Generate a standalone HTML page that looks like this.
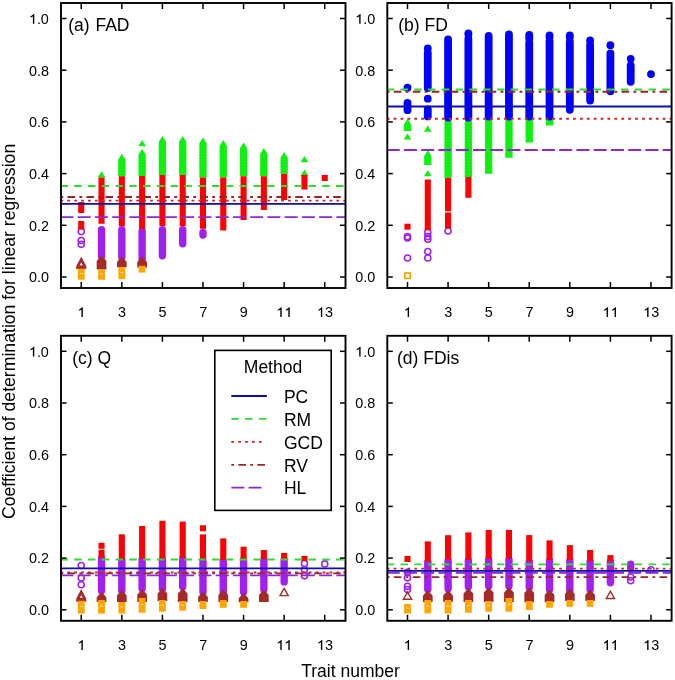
<!DOCTYPE html>
<html><head><meta charset="utf-8"><style>html,body{margin:0;padding:0;background:#fff;overflow:hidden}</style></head>
<body>
<svg width="675" height="680" viewBox="0 0 675 680" style="display:block;filter:blur(0.35px)">
<rect width="675" height="680" fill="#fff"/>
<g>
<clipPath id="c64"><rect x="61.00" y="3.00" width="284.50" height="285.00"/></clipPath>
<g clip-path="url(#c64)">
<circle cx="81.25" cy="231.60" r="3.05" fill="none" stroke="#a020f0" stroke-width="1.55"/>
<circle cx="81.25" cy="240.50" r="3.05" fill="none" stroke="#a020f0" stroke-width="1.55"/>
<circle cx="81.25" cy="244.30" r="3.05" fill="none" stroke="#a020f0" stroke-width="1.55"/>
<rect x="78.20" y="202.00" width="6.10" height="11.00" fill="#ff0000"/>
<rect x="78.20" y="221.00" width="6.10" height="8.50" fill="#ff0000"/>
<polygon points="81.25,258.44 85.25,266.04 77.25,266.04" fill="none" stroke="#a52a2a" stroke-width="1.60" stroke-linejoin="miter"/>
<polygon points="81.25,259.49 85.25,267.09 77.25,267.09" fill="none" stroke="#a52a2a" stroke-width="1.60" stroke-linejoin="miter"/>
<polygon points="81.25,260.54 85.25,268.14 77.25,268.14" fill="none" stroke="#a52a2a" stroke-width="1.60" stroke-linejoin="miter"/>
<rect x="77.85" y="268.70" width="6.80" height="11.00" fill="#ffa500"/>
<rect x="79.95" y="273.05" width="2.60" height="0.9" fill="#fff" opacity="0.85"/>
<polygon points="101.54,171.25 105.44,177.45 105.44,177.50 97.64,177.50 97.64,177.45" fill="#10f010"/>
<rect x="97.84" y="226.00" width="7.40" height="34.00" rx="3.70" fill="#a020f0"/>
<rect x="98.49" y="177.50" width="6.10" height="46.25" fill="#ff0000"/>
<polygon points="101.04,256.00 102.04,256.00 105.18,259.60 106.39,260.96 106.39,269.50 96.69,269.50 96.69,260.96 97.90,259.60" fill="#a52a2a"/>
<rect x="98.14" y="269.50" width="6.80" height="10.20" fill="#ffa500"/>
<rect x="100.24" y="273.45" width="2.60" height="0.9" fill="#fff" opacity="0.85"/>
<polygon points="121.83,153.75 125.73,159.95 125.26,160.35 125.73,162.95 125.26,163.35 125.73,165.95 125.26,166.35 125.73,168.95 125.26,169.35 125.73,171.95 125.26,172.35 125.73,174.95 125.26,175.35 125.73,176.25 125.73,176.25 117.93,176.25 117.93,176.25 118.40,175.35 117.93,174.95 118.40,172.35 117.93,171.95 118.40,169.35 117.93,168.95 118.40,166.35 117.93,165.95 118.40,163.35 117.93,162.95 118.40,160.35 117.93,159.95" fill="#10f010"/>
<rect x="118.13" y="226.00" width="7.40" height="35.00" rx="3.70" fill="#a020f0"/>
<rect x="118.78" y="176.25" width="6.10" height="50.00" fill="#ff0000"/>
<polygon points="121.33,257.00 122.33,257.00 125.47,260.60 126.68,261.96 126.68,267.20 116.98,267.20 116.98,261.96 118.19,260.60" fill="#a52a2a"/>
<rect x="118.43" y="267.20" width="6.80" height="11.90" fill="#ffa500"/>
<rect x="120.53" y="272.00" width="2.60" height="0.9" fill="#fff" opacity="0.85"/>
<polygon points="142.12,148.75 146.02,154.95 145.55,155.35 146.02,157.95 145.55,158.35 146.02,160.95 145.55,161.35 146.02,163.95 145.55,164.35 146.02,166.95 145.55,167.35 146.02,169.95 145.55,170.35 146.02,172.95 145.55,173.35 146.02,175.95 146.02,176.25 138.22,176.25 138.22,175.95 138.69,173.35 138.22,172.95 138.69,170.35 138.22,169.95 138.69,167.35 138.22,166.95 138.69,164.35 138.22,163.95 138.69,161.35 138.22,160.95 138.69,158.35 138.22,157.95 138.69,155.35 138.22,154.95" fill="#10f010"/>
<polygon points="142.12,140.00 146.02,146.20 138.22,146.20" fill="#10f010"/>
<rect x="138.42" y="227.50" width="7.40" height="35.00" rx="3.70" fill="#a020f0"/>
<rect x="139.07" y="176.00" width="6.10" height="53.00" fill="#ff0000"/>
<polygon points="141.62,257.00 142.62,257.00 145.76,260.60 146.97,261.96 146.97,267.40 137.27,267.40 137.27,261.96 138.48,260.60" fill="#a52a2a"/>
<rect x="138.72" y="265.80" width="6.80" height="6.80" fill="#ffa500"/>
<polygon points="162.41,136.00 166.31,142.20 165.84,142.60 166.31,145.20 165.84,145.60 166.31,148.20 165.84,148.60 166.31,151.20 165.84,151.60 166.31,154.20 165.84,154.60 166.31,157.20 165.84,157.60 166.31,160.20 165.84,160.60 166.31,163.20 165.84,163.60 166.31,166.20 165.84,166.60 166.31,169.20 165.84,169.60 166.31,172.20 165.84,172.60 166.31,175.00 166.31,175.00 158.51,175.00 158.51,175.00 158.98,172.60 158.51,172.20 158.98,169.60 158.51,169.20 158.98,166.60 158.51,166.20 158.98,163.60 158.51,163.20 158.98,160.60 158.51,160.20 158.98,157.60 158.51,157.20 158.98,154.60 158.51,154.20 158.98,151.60 158.51,151.20 158.98,148.60 158.51,148.20 158.98,145.60 158.51,145.20 158.98,142.60 158.51,142.20" fill="#10f010"/>
<rect x="158.71" y="226.00" width="7.40" height="33.50" rx="3.70" fill="#a020f0"/>
<rect x="159.36" y="175.00" width="6.10" height="51.00" fill="#ff0000"/>
<polygon points="182.70,136.00 186.60,142.20 186.13,142.60 186.60,145.20 186.13,145.60 186.60,148.20 186.13,148.60 186.60,151.20 186.13,151.60 186.60,154.20 186.13,154.60 186.60,157.20 186.13,157.60 186.60,160.20 186.13,160.60 186.60,163.20 186.13,163.60 186.60,166.20 186.13,166.60 186.60,169.20 186.13,169.60 186.60,172.20 186.13,172.60 186.60,175.00 186.60,175.00 178.80,175.00 178.80,175.00 179.27,172.60 178.80,172.20 179.27,169.60 178.80,169.20 179.27,166.60 178.80,166.20 179.27,163.60 178.80,163.20 179.27,160.60 178.80,160.20 179.27,157.60 178.80,157.20 179.27,154.60 178.80,154.20 179.27,151.60 178.80,151.20 179.27,148.60 178.80,148.20 179.27,145.60 178.80,145.20 179.27,142.60 178.80,142.20" fill="#10f010"/>
<rect x="179.00" y="226.00" width="7.40" height="21.50" rx="3.70" fill="#a020f0"/>
<rect x="179.65" y="175.00" width="6.10" height="51.00" fill="#ff0000"/>
<polygon points="202.99,137.50 206.89,143.70 206.42,144.10 206.89,146.70 206.42,147.10 206.89,149.70 206.42,150.10 206.89,152.70 206.42,153.10 206.89,155.70 206.42,156.10 206.89,158.70 206.42,159.10 206.89,161.70 206.42,162.10 206.89,164.70 206.42,165.10 206.89,167.70 206.42,168.10 206.89,170.70 206.42,171.10 206.89,173.70 206.42,174.10 206.89,176.70 206.42,177.10 206.89,177.50 206.89,177.50 199.09,177.50 199.09,177.50 199.56,177.10 199.09,176.70 199.56,174.10 199.09,173.70 199.56,171.10 199.09,170.70 199.56,168.10 199.09,167.70 199.56,165.10 199.09,164.70 199.56,162.10 199.09,161.70 199.56,159.10 199.09,158.70 199.56,156.10 199.09,155.70 199.56,153.10 199.09,152.70 199.56,150.10 199.09,149.70 199.56,147.10 199.09,146.70 199.56,144.10 199.09,143.70" fill="#10f010"/>
<rect x="199.29" y="228.75" width="7.40" height="10.00" rx="3.70" fill="#a020f0"/>
<rect x="199.94" y="177.50" width="6.10" height="51.25" fill="#ff0000"/>
<polygon points="223.28,140.00 227.18,146.20 226.71,146.60 227.18,149.20 226.71,149.60 227.18,152.20 226.71,152.60 227.18,155.20 226.71,155.60 227.18,158.20 226.71,158.60 227.18,161.20 226.71,161.60 227.18,164.20 226.71,164.60 227.18,167.20 226.71,167.60 227.18,170.20 226.71,170.60 227.18,173.20 226.71,173.60 227.18,176.20 226.71,176.60 227.18,177.50 227.18,177.50 219.38,177.50 219.38,177.50 219.85,176.60 219.38,176.20 219.85,173.60 219.38,173.20 219.85,170.60 219.38,170.20 219.85,167.60 219.38,167.20 219.85,164.60 219.38,164.20 219.85,161.60 219.38,161.20 219.85,158.60 219.38,158.20 219.85,155.60 219.38,155.20 219.85,152.60 219.38,152.20 219.85,149.60 219.38,149.20 219.85,146.60 219.38,146.20" fill="#10f010"/>
<rect x="220.23" y="177.50" width="6.10" height="53.00" fill="#ff0000"/>
<polygon points="243.57,142.50 247.47,148.70 247.00,149.10 247.47,151.70 247.00,152.10 247.47,154.70 247.00,155.10 247.47,157.70 247.00,158.10 247.47,160.70 247.00,161.10 247.47,163.70 247.00,164.10 247.47,166.70 247.00,167.10 247.47,169.70 247.00,170.10 247.47,172.70 247.00,173.10 247.47,175.70 247.00,176.10 247.47,176.25 247.47,176.25 239.67,176.25 239.67,176.25 240.14,176.10 239.67,175.70 240.14,173.10 239.67,172.70 240.14,170.10 239.67,169.70 240.14,167.10 239.67,166.70 240.14,164.10 239.67,163.70 240.14,161.10 239.67,160.70 240.14,158.10 239.67,157.70 240.14,155.10 239.67,154.70 240.14,152.10 239.67,151.70 240.14,149.10 239.67,148.70" fill="#10f010"/>
<rect x="240.52" y="176.25" width="6.10" height="43.75" fill="#ff0000"/>
<polygon points="263.86,148.00 267.76,154.20 267.29,154.60 267.76,157.20 267.29,157.60 267.76,160.20 267.29,160.60 267.76,163.20 267.29,163.60 267.76,166.20 267.29,166.60 267.76,169.20 267.29,169.60 267.76,172.20 267.29,172.60 267.76,175.20 267.29,175.60 267.76,176.25 267.76,176.25 259.96,176.25 259.96,176.25 260.43,175.60 259.96,175.20 260.43,172.60 259.96,172.20 260.43,169.60 259.96,169.20 260.43,166.60 259.96,166.20 260.43,163.60 259.96,163.20 260.43,160.60 259.96,160.20 260.43,157.60 259.96,157.20 260.43,154.60 259.96,154.20" fill="#10f010"/>
<rect x="260.81" y="176.25" width="6.10" height="33.75" fill="#ff0000"/>
<polygon points="284.15,152.00 288.05,158.20 287.58,158.60 288.05,161.20 287.58,161.60 288.05,164.20 287.58,164.60 288.05,167.20 287.58,167.60 288.05,170.20 287.58,170.60 288.05,173.20 287.58,173.60 288.05,173.75 288.05,173.75 280.25,173.75 280.25,173.75 280.72,173.60 280.25,173.20 280.72,170.60 280.25,170.20 280.72,167.60 280.25,167.20 280.72,164.60 280.25,164.20 280.72,161.60 280.25,161.20 280.72,158.60 280.25,158.20" fill="#10f010"/>
<rect x="281.10" y="173.75" width="6.10" height="26.25" fill="#ff0000"/>
<polygon points="304.44,156.00 308.34,162.20 300.54,162.20" fill="#10f010"/>
<polygon points="304.44,169.50 308.34,175.70 300.54,175.70" fill="#10f010"/>
<rect x="301.39" y="175.00" width="6.10" height="14.50" fill="#ff0000"/>
<rect x="321.68" y="175.00" width="6.10" height="6.00" fill="#ff0000"/>
<line x1="60.40" y1="186.00" x2="345.50" y2="186.00" stroke="#2fdc2f" stroke-width="1.80" stroke-dasharray="7.50,6.28"/>
<line x1="60.40" y1="197.00" x2="345.50" y2="197.00" stroke="#9a2626" stroke-width="1.80" stroke-dasharray="2.80,4.29,7.60,4.29"/>
<line x1="60.40" y1="200.70" x2="345.50" y2="200.70" stroke="#c82828" stroke-width="1.80" stroke-dasharray="2.80,4.10"/>
<line x1="60.40" y1="203.90" x2="345.50" y2="203.90" stroke="#0e0eb4" stroke-width="1.80"/>
<line x1="60.40" y1="217.10" x2="345.50" y2="217.10" stroke="#8a28d8" stroke-width="1.80" stroke-dasharray="13.00,4.25"/>
</g>
<line x1="81.25" y1="288.00" x2="81.25" y2="282.00" stroke="#000" stroke-width="1.5"/>
<line x1="81.25" y1="3.00" x2="81.25" y2="9.00" stroke="#000" stroke-width="1.5"/>
<path transform="translate(77.40,317.10) scale(0.00703,-0.00703)" d="M770,0L572,0L572,1090C530,1052 476,1013 408,975C340,937 278,908 222,889L222,1062C322,1107 410,1160 485,1224C560,1288 612,1350 642,1409L770,1409Z" fill="#000"/>
<line x1="121.83" y1="288.00" x2="121.83" y2="282.00" stroke="#000" stroke-width="1.5"/>
<line x1="121.83" y1="3.00" x2="121.83" y2="9.00" stroke="#000" stroke-width="1.5"/>
<text x="117.98" y="317.10" font-family="Liberation Sans, sans-serif" font-size="14.4">3</text>
<line x1="162.41" y1="288.00" x2="162.41" y2="282.00" stroke="#000" stroke-width="1.5"/>
<line x1="162.41" y1="3.00" x2="162.41" y2="9.00" stroke="#000" stroke-width="1.5"/>
<text x="158.56" y="317.10" font-family="Liberation Sans, sans-serif" font-size="14.4">5</text>
<line x1="202.99" y1="288.00" x2="202.99" y2="282.00" stroke="#000" stroke-width="1.5"/>
<line x1="202.99" y1="3.00" x2="202.99" y2="9.00" stroke="#000" stroke-width="1.5"/>
<text x="199.14" y="317.10" font-family="Liberation Sans, sans-serif" font-size="14.4">7</text>
<line x1="243.57" y1="288.00" x2="243.57" y2="282.00" stroke="#000" stroke-width="1.5"/>
<line x1="243.57" y1="3.00" x2="243.57" y2="9.00" stroke="#000" stroke-width="1.5"/>
<text x="239.72" y="317.10" font-family="Liberation Sans, sans-serif" font-size="14.4">9</text>
<line x1="284.15" y1="288.00" x2="284.15" y2="282.00" stroke="#000" stroke-width="1.5"/>
<line x1="284.15" y1="3.00" x2="284.15" y2="9.00" stroke="#000" stroke-width="1.5"/>
<path transform="translate(276.29,317.10) scale(0.00703,-0.00703)" d="M770,0L572,0L572,1090C530,1052 476,1013 408,975C340,937 278,908 222,889L222,1062C322,1107 410,1160 485,1224C560,1288 612,1350 642,1409L770,1409Z" fill="#000"/>
<path transform="translate(284.30,317.10) scale(0.00703,-0.00703)" d="M770,0L572,0L572,1090C530,1052 476,1013 408,975C340,937 278,908 222,889L222,1062C322,1107 410,1160 485,1224C560,1288 612,1350 642,1409L770,1409Z" fill="#000"/>
<line x1="324.73" y1="288.00" x2="324.73" y2="282.00" stroke="#000" stroke-width="1.5"/>
<line x1="324.73" y1="3.00" x2="324.73" y2="9.00" stroke="#000" stroke-width="1.5"/>
<path transform="translate(316.87,317.10) scale(0.00703,-0.00703)" d="M770,0L572,0L572,1090C530,1052 476,1013 408,975C340,937 278,908 222,889L222,1062C322,1107 410,1160 485,1224C560,1288 612,1350 642,1409L770,1409Z" fill="#000"/>
<text x="324.88" y="317.10" font-family="Liberation Sans, sans-serif" font-size="14.4">3</text>
<line x1="61.00" y1="277.00" x2="66.50" y2="277.00" stroke="#000" stroke-width="1.5"/>
<line x1="345.50" y1="277.00" x2="340.00" y2="277.00" stroke="#000" stroke-width="1.5"/>
<text x="28.88" y="282.30" font-family="Liberation Sans, sans-serif" font-size="14.4">0.0</text>
<line x1="61.00" y1="225.30" x2="66.50" y2="225.30" stroke="#000" stroke-width="1.5"/>
<line x1="345.50" y1="225.30" x2="340.00" y2="225.30" stroke="#000" stroke-width="1.5"/>
<text x="28.88" y="230.60" font-family="Liberation Sans, sans-serif" font-size="14.4">0.2</text>
<line x1="61.00" y1="173.60" x2="66.50" y2="173.60" stroke="#000" stroke-width="1.5"/>
<line x1="345.50" y1="173.60" x2="340.00" y2="173.60" stroke="#000" stroke-width="1.5"/>
<text x="28.88" y="178.90" font-family="Liberation Sans, sans-serif" font-size="14.4">0.4</text>
<line x1="61.00" y1="121.90" x2="66.50" y2="121.90" stroke="#000" stroke-width="1.5"/>
<line x1="345.50" y1="121.90" x2="340.00" y2="121.90" stroke="#000" stroke-width="1.5"/>
<text x="28.88" y="127.20" font-family="Liberation Sans, sans-serif" font-size="14.4">0.6</text>
<line x1="61.00" y1="70.20" x2="66.50" y2="70.20" stroke="#000" stroke-width="1.5"/>
<line x1="345.50" y1="70.20" x2="340.00" y2="70.20" stroke="#000" stroke-width="1.5"/>
<text x="28.88" y="75.50" font-family="Liberation Sans, sans-serif" font-size="14.4">0.8</text>
<line x1="61.00" y1="18.50" x2="66.50" y2="18.50" stroke="#000" stroke-width="1.5"/>
<line x1="345.50" y1="18.50" x2="340.00" y2="18.50" stroke="#000" stroke-width="1.5"/>
<path transform="translate(28.88,23.80) scale(0.00703,-0.00703)" d="M770,0L572,0L572,1090C530,1052 476,1013 408,975C340,937 278,908 222,889L222,1062C322,1107 410,1160 485,1224C560,1288 612,1350 642,1409L770,1409Z" fill="#000"/>
<text x="36.89" y="23.80" font-family="Liberation Sans, sans-serif" font-size="14.4">.0</text>
<text x="68.20" y="30.70" font-family="Liberation Sans, sans-serif" font-size="17.5" word-spacing="1">(a) FAD</text>
<rect x="61.00" y="3.00" width="284.50" height="285.00" fill="none" stroke="#000" stroke-width="1.9"/>
</g>
<g>
<clipPath id="c390"><rect x="387.30" y="3.00" width="284.30" height="285.00"/></clipPath>
<g clip-path="url(#c390)">
<polygon points="407.50,118.80 411.40,125.00 410.93,125.40 411.40,128.00 410.93,128.40 411.40,131.00 411.40,131.10 403.60,131.10 403.60,131.00 404.07,128.40 403.60,128.00 404.07,125.40 403.60,125.00" fill="#10f010"/>
<polygon points="407.50,133.40 411.40,139.60 403.60,139.60" fill="#10f010"/>
<rect x="403.60" y="99.00" width="7.80" height="15.10" rx="3.90" fill="#0000ff"/>
<rect x="403.60" y="83.80" width="7.80" height="7.80" rx="3.90" fill="#0000ff"/>
<circle cx="407.50" cy="236.60" r="3.05" fill="none" stroke="#a020f0" stroke-width="1.55"/>
<circle cx="407.50" cy="238.00" r="3.05" fill="none" stroke="#a020f0" stroke-width="1.55"/>
<circle cx="407.50" cy="258.00" r="3.05" fill="none" stroke="#a020f0" stroke-width="1.55"/>
<rect x="404.45" y="223.70" width="6.10" height="6.00" fill="#ff0000"/>
<rect x="404.85" y="273.05" width="5.30" height="5.30" fill="none" stroke="#ffa500" stroke-width="1.70"/>
<polygon points="427.79,150.00 431.69,156.20 431.22,156.60 431.69,159.20 431.22,159.60 431.69,162.20 431.22,162.60 431.69,165.00 431.69,165.00 423.89,165.00 423.89,165.00 424.36,162.60 423.89,162.20 424.36,159.60 423.89,159.20 424.36,156.60 423.89,156.20" fill="#10f010"/>
<polygon points="427.79,125.60 431.69,131.80 423.89,131.80" fill="#10f010"/>
<polygon points="427.79,170.00 431.69,176.20 423.89,176.20" fill="#10f010"/>
<rect x="423.89" y="44.40" width="7.80" height="8.10" rx="3.90" fill="#0000ff"/>
<rect x="423.89" y="49.00" width="7.80" height="43.00" rx="3.90" fill="#0000ff"/>
<rect x="423.89" y="105.40" width="7.80" height="14.90" rx="3.90" fill="#0000ff"/>
<rect x="423.89" y="94.80" width="7.80" height="7.80" rx="3.90" fill="#0000ff"/>
<circle cx="427.79" cy="232.40" r="3.05" fill="none" stroke="#a020f0" stroke-width="1.55"/>
<circle cx="427.79" cy="236.60" r="3.05" fill="none" stroke="#a020f0" stroke-width="1.55"/>
<circle cx="427.79" cy="239.30" r="3.05" fill="none" stroke="#a020f0" stroke-width="1.55"/>
<circle cx="427.79" cy="251.50" r="3.05" fill="none" stroke="#a020f0" stroke-width="1.55"/>
<circle cx="427.79" cy="258.00" r="3.05" fill="none" stroke="#a020f0" stroke-width="1.55"/>
<rect x="424.74" y="179.50" width="6.10" height="50.80" fill="#ff0000"/>
<polygon points="448.08,115.50 451.98,121.70 451.51,122.10 451.98,124.70 451.51,125.10 451.98,127.70 451.51,128.10 451.98,130.70 451.51,131.10 451.98,133.70 451.51,134.10 451.98,136.70 451.51,137.10 451.98,139.70 451.51,140.10 451.98,142.70 451.51,143.10 451.98,145.70 451.51,146.10 451.98,148.70 451.51,149.10 451.98,151.70 451.51,152.10 451.98,154.70 451.51,155.10 451.98,157.70 451.51,158.10 451.98,160.70 451.51,161.10 451.98,163.70 451.51,164.10 451.98,166.70 451.51,167.10 451.98,169.70 451.51,170.10 451.98,172.70 451.51,173.10 451.98,175.70 451.51,176.10 451.98,177.80 451.98,177.80 444.18,177.80 444.18,177.80 444.65,176.10 444.18,175.70 444.65,173.10 444.18,172.70 444.65,170.10 444.18,169.70 444.65,167.10 444.18,166.70 444.65,164.10 444.18,163.70 444.65,161.10 444.18,160.70 444.65,158.10 444.18,157.70 444.65,155.10 444.18,154.70 444.65,152.10 444.18,151.70 444.65,149.10 444.18,148.70 444.65,146.10 444.18,145.70 444.65,143.10 444.18,142.70 444.65,140.10 444.18,139.70 444.65,137.10 444.18,136.70 444.65,134.10 444.18,133.70 444.65,131.10 444.18,130.70 444.65,128.10 444.18,127.70 444.65,125.10 444.18,124.70 444.65,122.10 444.18,121.70" fill="#10f010"/>
<rect x="444.18" y="35.50" width="7.80" height="86.00" rx="3.90" fill="#0000ff"/>
<circle cx="448.08" cy="231.00" r="3.05" fill="none" stroke="#a020f0" stroke-width="1.55"/>
<rect x="445.03" y="177.80" width="6.10" height="33.40" fill="#ff0000"/>
<rect x="445.03" y="212.40" width="6.10" height="15.90" fill="#ff0000"/>
<polygon points="468.37,115.50 472.27,121.70 471.80,122.10 472.27,124.70 471.80,125.10 472.27,127.70 471.80,128.10 472.27,130.70 471.80,131.10 472.27,133.70 471.80,134.10 472.27,136.70 471.80,137.10 472.27,139.70 471.80,140.10 472.27,142.70 471.80,143.10 472.27,145.70 471.80,146.10 472.27,148.70 471.80,149.10 472.27,151.70 471.80,152.10 472.27,154.70 471.80,155.10 472.27,157.70 471.80,158.10 472.27,160.70 471.80,161.10 472.27,163.70 471.80,164.10 472.27,166.70 471.80,167.10 472.27,169.70 471.80,170.10 472.27,172.70 471.80,173.10 472.27,175.70 471.80,176.10 472.27,177.00 472.27,177.00 464.47,177.00 464.47,177.00 464.94,176.10 464.47,175.70 464.94,173.10 464.47,172.70 464.94,170.10 464.47,169.70 464.94,167.10 464.47,166.70 464.94,164.10 464.47,163.70 464.94,161.10 464.47,160.70 464.94,158.10 464.47,157.70 464.94,155.10 464.47,154.70 464.94,152.10 464.47,151.70 464.94,149.10 464.47,148.70 464.94,146.10 464.47,145.70 464.94,143.10 464.47,142.70 464.94,140.10 464.47,139.70 464.94,137.10 464.47,136.70 464.94,134.10 464.47,133.70 464.94,131.10 464.47,130.70 464.94,128.10 464.47,127.70 464.94,125.10 464.47,124.70 464.94,122.10 464.47,121.70" fill="#10f010"/>
<rect x="464.47" y="29.40" width="7.80" height="9.10" rx="3.90" fill="#0000ff"/>
<rect x="464.47" y="35.00" width="7.80" height="86.50" rx="3.90" fill="#0000ff"/>
<rect x="465.32" y="177.00" width="6.10" height="20.80" fill="#ff0000"/>
<polygon points="488.66,114.50 492.56,120.70 492.09,121.10 492.56,123.70 492.09,124.10 492.56,126.70 492.09,127.10 492.56,129.70 492.09,130.10 492.56,132.70 492.09,133.10 492.56,135.70 492.09,136.10 492.56,138.70 492.09,139.10 492.56,141.70 492.09,142.10 492.56,144.70 492.09,145.10 492.56,147.70 492.09,148.10 492.56,150.70 492.09,151.10 492.56,153.70 492.09,154.10 492.56,156.70 492.09,157.10 492.56,159.70 492.09,160.10 492.56,162.70 492.09,163.10 492.56,165.70 492.09,166.10 492.56,168.70 492.09,169.10 492.56,171.70 492.09,172.10 492.56,173.70 492.56,173.70 484.76,173.70 484.76,173.70 485.23,172.10 484.76,171.70 485.23,169.10 484.76,168.70 485.23,166.10 484.76,165.70 485.23,163.10 484.76,162.70 485.23,160.10 484.76,159.70 485.23,157.10 484.76,156.70 485.23,154.10 484.76,153.70 485.23,151.10 484.76,150.70 485.23,148.10 484.76,147.70 485.23,145.10 484.76,144.70 485.23,142.10 484.76,141.70 485.23,139.10 484.76,138.70 485.23,136.10 484.76,135.70 485.23,133.10 484.76,132.70 485.23,130.10 484.76,129.70 485.23,127.10 484.76,126.70 485.23,124.10 484.76,123.70 485.23,121.10 484.76,120.70" fill="#10f010"/>
<rect x="484.76" y="32.00" width="7.80" height="88.50" rx="3.90" fill="#0000ff"/>
<polygon points="508.95,114.50 512.85,120.70 512.38,121.10 512.85,123.70 512.38,124.10 512.85,126.70 512.38,127.10 512.85,129.70 512.38,130.10 512.85,132.70 512.38,133.10 512.85,135.70 512.38,136.10 512.85,138.70 512.38,139.10 512.85,141.70 512.38,142.10 512.85,144.70 512.38,145.10 512.85,147.70 512.38,148.10 512.85,150.70 512.38,151.10 512.85,153.70 512.38,154.10 512.85,156.70 512.38,157.10 512.85,157.80 512.85,157.80 505.05,157.80 505.05,157.80 505.52,157.10 505.05,156.70 505.52,154.10 505.05,153.70 505.52,151.10 505.05,150.70 505.52,148.10 505.05,147.70 505.52,145.10 505.05,144.70 505.52,142.10 505.05,141.70 505.52,139.10 505.05,138.70 505.52,136.10 505.05,135.70 505.52,133.10 505.05,132.70 505.52,130.10 505.05,129.70 505.52,127.10 505.05,126.70 505.52,124.10 505.05,123.70 505.52,121.10 505.05,120.70" fill="#10f010"/>
<rect x="505.05" y="30.50" width="7.80" height="90.00" rx="3.90" fill="#0000ff"/>
<polygon points="529.24,114.50 533.14,120.70 532.67,121.10 533.14,123.70 532.67,124.10 533.14,126.70 532.67,127.10 533.14,129.70 532.67,130.10 533.14,132.70 532.67,133.10 533.14,135.70 532.67,136.10 533.14,138.70 532.67,139.10 533.14,141.70 532.67,142.10 533.14,142.50 533.14,142.50 525.34,142.50 525.34,142.50 525.81,142.10 525.34,141.70 525.81,139.10 525.34,138.70 525.81,136.10 525.34,135.70 525.81,133.10 525.34,132.70 525.81,130.10 525.34,129.70 525.81,127.10 525.34,126.70 525.81,124.10 525.34,123.70 525.81,121.10 525.34,120.70" fill="#10f010"/>
<rect x="525.34" y="30.90" width="7.80" height="11.90" rx="3.90" fill="#0000ff"/>
<rect x="525.34" y="39.30" width="7.80" height="81.20" rx="3.90" fill="#0000ff"/>
<polygon points="549.53,114.50 553.43,120.70 552.96,121.10 553.43,123.70 552.96,124.10 553.43,125.50 553.43,125.50 545.63,125.50 545.63,125.50 546.10,124.10 545.63,123.70 546.10,121.10 545.63,120.70" fill="#10f010"/>
<rect x="545.63" y="31.50" width="7.80" height="9.70" rx="3.90" fill="#0000ff"/>
<rect x="545.63" y="37.60" width="7.80" height="82.90" rx="3.90" fill="#0000ff"/>
<rect x="565.92" y="31.50" width="7.80" height="9.70" rx="3.90" fill="#0000ff"/>
<rect x="565.92" y="37.80" width="7.80" height="75.95" rx="3.90" fill="#0000ff"/>
<rect x="586.21" y="36.50" width="7.80" height="7.80" rx="3.90" fill="#0000ff"/>
<rect x="586.21" y="40.80" width="7.80" height="63.70" rx="3.90" fill="#0000ff"/>
<rect x="606.50" y="41.30" width="7.80" height="7.80" rx="3.90" fill="#0000ff"/>
<rect x="606.50" y="49.60" width="7.80" height="45.60" rx="3.90" fill="#0000ff"/>
<rect x="626.79" y="54.90" width="7.80" height="7.80" rx="3.90" fill="#0000ff"/>
<rect x="626.79" y="61.60" width="7.80" height="24.10" rx="3.90" fill="#0000ff"/>
<rect x="647.08" y="70.20" width="7.80" height="7.80" rx="3.90" fill="#0000ff"/>
<line x1="386.70" y1="89.50" x2="671.60" y2="89.50" stroke="#2fdc2f" stroke-width="1.80" stroke-dasharray="7.50,6.28"/>
<line x1="386.70" y1="91.75" x2="671.60" y2="91.75" stroke="#9a2626" stroke-width="1.80" stroke-dasharray="2.80,4.29,7.60,4.29"/>
<line x1="386.70" y1="106.50" x2="671.60" y2="106.50" stroke="#0e0eb4" stroke-width="1.80"/>
<line x1="386.70" y1="118.75" x2="671.60" y2="118.75" stroke="#c82828" stroke-width="1.80" stroke-dasharray="2.80,4.10"/>
<line x1="386.70" y1="150.00" x2="671.60" y2="150.00" stroke="#8a28d8" stroke-width="1.80" stroke-dasharray="13.00,4.25"/>
</g>
<line x1="407.50" y1="288.00" x2="407.50" y2="282.00" stroke="#000" stroke-width="1.5"/>
<line x1="407.50" y1="3.00" x2="407.50" y2="9.00" stroke="#000" stroke-width="1.5"/>
<path transform="translate(403.65,317.10) scale(0.00703,-0.00703)" d="M770,0L572,0L572,1090C530,1052 476,1013 408,975C340,937 278,908 222,889L222,1062C322,1107 410,1160 485,1224C560,1288 612,1350 642,1409L770,1409Z" fill="#000"/>
<line x1="448.08" y1="288.00" x2="448.08" y2="282.00" stroke="#000" stroke-width="1.5"/>
<line x1="448.08" y1="3.00" x2="448.08" y2="9.00" stroke="#000" stroke-width="1.5"/>
<text x="444.23" y="317.10" font-family="Liberation Sans, sans-serif" font-size="14.4">3</text>
<line x1="488.66" y1="288.00" x2="488.66" y2="282.00" stroke="#000" stroke-width="1.5"/>
<line x1="488.66" y1="3.00" x2="488.66" y2="9.00" stroke="#000" stroke-width="1.5"/>
<text x="484.81" y="317.10" font-family="Liberation Sans, sans-serif" font-size="14.4">5</text>
<line x1="529.24" y1="288.00" x2="529.24" y2="282.00" stroke="#000" stroke-width="1.5"/>
<line x1="529.24" y1="3.00" x2="529.24" y2="9.00" stroke="#000" stroke-width="1.5"/>
<text x="525.39" y="317.10" font-family="Liberation Sans, sans-serif" font-size="14.4">7</text>
<line x1="569.82" y1="288.00" x2="569.82" y2="282.00" stroke="#000" stroke-width="1.5"/>
<line x1="569.82" y1="3.00" x2="569.82" y2="9.00" stroke="#000" stroke-width="1.5"/>
<text x="565.97" y="317.10" font-family="Liberation Sans, sans-serif" font-size="14.4">9</text>
<line x1="610.40" y1="288.00" x2="610.40" y2="282.00" stroke="#000" stroke-width="1.5"/>
<line x1="610.40" y1="3.00" x2="610.40" y2="9.00" stroke="#000" stroke-width="1.5"/>
<path transform="translate(602.54,317.10) scale(0.00703,-0.00703)" d="M770,0L572,0L572,1090C530,1052 476,1013 408,975C340,937 278,908 222,889L222,1062C322,1107 410,1160 485,1224C560,1288 612,1350 642,1409L770,1409Z" fill="#000"/>
<path transform="translate(610.55,317.10) scale(0.00703,-0.00703)" d="M770,0L572,0L572,1090C530,1052 476,1013 408,975C340,937 278,908 222,889L222,1062C322,1107 410,1160 485,1224C560,1288 612,1350 642,1409L770,1409Z" fill="#000"/>
<line x1="650.98" y1="288.00" x2="650.98" y2="282.00" stroke="#000" stroke-width="1.5"/>
<line x1="650.98" y1="3.00" x2="650.98" y2="9.00" stroke="#000" stroke-width="1.5"/>
<path transform="translate(643.12,317.10) scale(0.00703,-0.00703)" d="M770,0L572,0L572,1090C530,1052 476,1013 408,975C340,937 278,908 222,889L222,1062C322,1107 410,1160 485,1224C560,1288 612,1350 642,1409L770,1409Z" fill="#000"/>
<text x="651.13" y="317.10" font-family="Liberation Sans, sans-serif" font-size="14.4">3</text>
<line x1="387.30" y1="277.00" x2="392.80" y2="277.00" stroke="#000" stroke-width="1.5"/>
<line x1="671.60" y1="277.00" x2="666.10" y2="277.00" stroke="#000" stroke-width="1.5"/>
<text x="355.18" y="282.30" font-family="Liberation Sans, sans-serif" font-size="14.4">0.0</text>
<line x1="387.30" y1="225.30" x2="392.80" y2="225.30" stroke="#000" stroke-width="1.5"/>
<line x1="671.60" y1="225.30" x2="666.10" y2="225.30" stroke="#000" stroke-width="1.5"/>
<text x="355.18" y="230.60" font-family="Liberation Sans, sans-serif" font-size="14.4">0.2</text>
<line x1="387.30" y1="173.60" x2="392.80" y2="173.60" stroke="#000" stroke-width="1.5"/>
<line x1="671.60" y1="173.60" x2="666.10" y2="173.60" stroke="#000" stroke-width="1.5"/>
<text x="355.18" y="178.90" font-family="Liberation Sans, sans-serif" font-size="14.4">0.4</text>
<line x1="387.30" y1="121.90" x2="392.80" y2="121.90" stroke="#000" stroke-width="1.5"/>
<line x1="671.60" y1="121.90" x2="666.10" y2="121.90" stroke="#000" stroke-width="1.5"/>
<text x="355.18" y="127.20" font-family="Liberation Sans, sans-serif" font-size="14.4">0.6</text>
<line x1="387.30" y1="70.20" x2="392.80" y2="70.20" stroke="#000" stroke-width="1.5"/>
<line x1="671.60" y1="70.20" x2="666.10" y2="70.20" stroke="#000" stroke-width="1.5"/>
<text x="355.18" y="75.50" font-family="Liberation Sans, sans-serif" font-size="14.4">0.8</text>
<line x1="387.30" y1="18.50" x2="392.80" y2="18.50" stroke="#000" stroke-width="1.5"/>
<line x1="671.60" y1="18.50" x2="666.10" y2="18.50" stroke="#000" stroke-width="1.5"/>
<path transform="translate(355.18,23.80) scale(0.00703,-0.00703)" d="M770,0L572,0L572,1090C530,1052 476,1013 408,975C340,937 278,908 222,889L222,1062C322,1107 410,1160 485,1224C560,1288 612,1350 642,1409L770,1409Z" fill="#000"/>
<text x="363.19" y="23.80" font-family="Liberation Sans, sans-serif" font-size="14.4">.0</text>
<text x="398.20" y="30.70" font-family="Liberation Sans, sans-serif" font-size="17.5">(b) FD</text>
<rect x="387.30" y="3.00" width="284.30" height="285.00" fill="none" stroke="#000" stroke-width="1.9"/>
</g>
<g>
<clipPath id="c396"><rect x="61.00" y="335.80" width="284.50" height="285.00"/></clipPath>
<g clip-path="url(#c396)">
<circle cx="81.25" cy="565.50" r="3.05" fill="none" stroke="#a020f0" stroke-width="1.55"/>
<circle cx="81.25" cy="578.00" r="3.05" fill="none" stroke="#a020f0" stroke-width="1.55"/>
<circle cx="81.25" cy="584.70" r="3.05" fill="none" stroke="#a020f0" stroke-width="1.55"/>
<polygon points="81.25,590.84 85.25,598.44 77.25,598.44" fill="none" stroke="#a52a2a" stroke-width="1.60" stroke-linejoin="miter"/>
<polygon points="81.25,592.09 85.25,599.69 77.25,599.69" fill="none" stroke="#a52a2a" stroke-width="1.60" stroke-linejoin="miter"/>
<polygon points="81.25,593.34 85.25,600.94 77.25,600.94" fill="none" stroke="#a52a2a" stroke-width="1.60" stroke-linejoin="miter"/>
<rect x="77.85" y="601.00" width="6.80" height="12.60" fill="#ffa500"/>
<rect x="79.95" y="606.15" width="2.60" height="0.9" fill="#fff" opacity="0.85"/>
<rect x="97.84" y="555.00" width="7.40" height="39.40" rx="3.70" fill="#a020f0"/>
<rect x="98.49" y="549.80" width="6.10" height="8.00" fill="#ff0000"/>
<rect x="98.49" y="542.80" width="6.10" height="6.00" fill="#ff0000"/>
<polygon points="101.04,592.50 102.04,592.50 105.18,596.10 106.39,597.46 106.39,602.00 96.69,602.00 96.69,597.46 97.90,596.10" fill="#a52a2a"/>
<rect x="98.14" y="600.00" width="6.80" height="13.60" fill="#ffa500"/>
<rect x="100.24" y="605.65" width="2.60" height="0.9" fill="#fff" opacity="0.85"/>
<rect x="118.13" y="556.90" width="7.40" height="37.50" rx="3.70" fill="#a020f0"/>
<rect x="118.78" y="534.30" width="6.10" height="25.40" fill="#ff0000"/>
<polygon points="121.33,590.50 122.33,590.50 125.47,594.10 126.68,595.46 126.68,602.00 116.98,602.00 116.98,595.46 118.19,594.10" fill="#a52a2a"/>
<rect x="118.43" y="602.00" width="6.80" height="11.60" fill="#ffa500"/>
<rect x="120.53" y="606.65" width="2.60" height="0.9" fill="#fff" opacity="0.85"/>
<rect x="138.42" y="555.90" width="7.40" height="36.60" rx="3.70" fill="#a020f0"/>
<rect x="139.07" y="526.00" width="6.10" height="32.70" fill="#ff0000"/>
<polygon points="141.62,589.60 142.62,589.60 145.76,593.20 146.97,594.56 146.97,602.00 137.27,602.00 137.27,594.56 138.48,593.20" fill="#a52a2a"/>
<rect x="138.72" y="598.00" width="6.80" height="14.70" fill="#ffa500"/>
<rect x="140.82" y="604.20" width="2.60" height="0.9" fill="#fff" opacity="0.85"/>
<rect x="158.71" y="555.90" width="7.40" height="36.60" rx="3.70" fill="#a020f0"/>
<rect x="159.36" y="520.80" width="6.10" height="37.90" fill="#ff0000"/>
<polygon points="161.91,588.60 162.91,588.60 166.05,592.20 167.26,593.56 167.26,601.00 157.56,601.00 157.56,593.56 158.77,592.20" fill="#a52a2a"/>
<rect x="159.01" y="600.00" width="6.80" height="11.70" fill="#ffa500"/>
<rect x="161.11" y="604.70" width="2.60" height="0.9" fill="#fff" opacity="0.85"/>
<rect x="179.00" y="555.00" width="7.40" height="35.50" rx="3.70" fill="#a020f0"/>
<rect x="179.65" y="521.60" width="6.10" height="36.20" fill="#ff0000"/>
<polygon points="182.20,588.60 183.20,588.60 186.34,592.20 187.55,593.56 187.55,602.00 177.85,602.00 177.85,593.56 179.06,592.20" fill="#a52a2a"/>
<rect x="179.30" y="601.00" width="6.80" height="9.70" fill="#ffa500"/>
<rect x="181.40" y="604.70" width="2.60" height="0.9" fill="#fff" opacity="0.85"/>
<rect x="199.29" y="557.20" width="7.40" height="38.40" rx="3.70" fill="#a020f0"/>
<rect x="199.94" y="534.40" width="6.10" height="25.60" fill="#ff0000"/>
<rect x="199.94" y="525.30" width="6.10" height="6.00" fill="#ff0000"/>
<polygon points="202.49,592.00 203.49,592.00 206.63,595.60 207.84,596.96 207.84,602.00 198.14,602.00 198.14,596.96 199.35,595.60" fill="#a52a2a"/>
<rect x="199.59" y="601.00" width="6.80" height="8.00" fill="#ffa500"/>
<rect x="219.58" y="557.20" width="7.40" height="38.40" rx="3.70" fill="#a020f0"/>
<rect x="220.23" y="538.40" width="6.10" height="21.60" fill="#ff0000"/>
<polygon points="222.78,590.00 223.78,590.00 226.92,593.60 228.13,594.96 228.13,602.00 218.43,602.00 218.43,594.96 219.64,593.60" fill="#a52a2a"/>
<rect x="219.88" y="600.00" width="6.80" height="7.80" fill="#ffa500"/>
<rect x="239.87" y="556.20" width="7.40" height="39.40" rx="3.70" fill="#a020f0"/>
<rect x="240.52" y="546.70" width="6.10" height="12.30" fill="#ff0000"/>
<polygon points="243.07,593.30 244.07,593.30 247.21,596.90 248.42,598.26 248.42,602.30 238.72,602.30 238.72,598.26 239.93,596.90" fill="#a52a2a"/>
<rect x="240.17" y="601.00" width="6.80" height="6.80" fill="#ffa500"/>
<rect x="260.16" y="556.20" width="7.40" height="37.10" rx="3.70" fill="#a020f0"/>
<rect x="260.81" y="550.00" width="6.10" height="9.00" fill="#ff0000"/>
<polygon points="263.36,590.00 264.36,590.00 267.50,593.60 268.71,594.96 268.71,602.00 259.01,602.00 259.01,594.96 260.22,593.60" fill="#a52a2a"/>
<rect x="280.45" y="556.20" width="7.40" height="29.40" rx="3.70" fill="#a020f0"/>
<rect x="281.10" y="552.90" width="6.10" height="6.10" fill="#ff0000"/>
<polygon points="284.15,588.46 288.25,595.66 280.05,595.66" fill="none" stroke="#a52a2a" stroke-width="1.40" stroke-linejoin="miter"/>
<circle cx="304.44" cy="563.60" r="3.05" fill="none" stroke="#a020f0" stroke-width="1.55"/>
<circle cx="304.44" cy="569.60" r="3.05" fill="none" stroke="#a020f0" stroke-width="1.55"/>
<circle cx="304.44" cy="575.80" r="3.05" fill="none" stroke="#a020f0" stroke-width="1.55"/>
<rect x="301.39" y="556.00" width="6.10" height="5.00" fill="#ff0000"/>
<circle cx="324.73" cy="563.90" r="3.05" fill="none" stroke="#a020f0" stroke-width="1.55"/>
<line x1="60.40" y1="559.50" x2="345.50" y2="559.50" stroke="#2fdc2f" stroke-width="1.80" stroke-dasharray="7.50,6.28"/>
<line x1="60.40" y1="568.40" x2="345.50" y2="568.40" stroke="#0e0eb4" stroke-width="1.80"/>
<line x1="60.40" y1="572.50" x2="345.50" y2="572.50" stroke="#c82828" stroke-width="1.80" stroke-dasharray="2.80,4.10"/>
<line x1="60.40" y1="573.40" x2="345.50" y2="573.40" stroke="#9a2626" stroke-width="1.80" stroke-dasharray="2.80,4.29,7.60,4.29"/>
<line x1="60.40" y1="575.40" x2="345.50" y2="575.40" stroke="#8a28d8" stroke-width="1.80" stroke-dasharray="13.00,4.25"/>
</g>
<line x1="81.25" y1="620.80" x2="81.25" y2="614.80" stroke="#000" stroke-width="1.5"/>
<line x1="81.25" y1="335.80" x2="81.25" y2="341.80" stroke="#000" stroke-width="1.5"/>
<path transform="translate(77.40,649.90) scale(0.00703,-0.00703)" d="M770,0L572,0L572,1090C530,1052 476,1013 408,975C340,937 278,908 222,889L222,1062C322,1107 410,1160 485,1224C560,1288 612,1350 642,1409L770,1409Z" fill="#000"/>
<line x1="121.83" y1="620.80" x2="121.83" y2="614.80" stroke="#000" stroke-width="1.5"/>
<line x1="121.83" y1="335.80" x2="121.83" y2="341.80" stroke="#000" stroke-width="1.5"/>
<text x="117.98" y="649.90" font-family="Liberation Sans, sans-serif" font-size="14.4">3</text>
<line x1="162.41" y1="620.80" x2="162.41" y2="614.80" stroke="#000" stroke-width="1.5"/>
<line x1="162.41" y1="335.80" x2="162.41" y2="341.80" stroke="#000" stroke-width="1.5"/>
<text x="158.56" y="649.90" font-family="Liberation Sans, sans-serif" font-size="14.4">5</text>
<line x1="202.99" y1="620.80" x2="202.99" y2="614.80" stroke="#000" stroke-width="1.5"/>
<line x1="202.99" y1="335.80" x2="202.99" y2="341.80" stroke="#000" stroke-width="1.5"/>
<text x="199.14" y="649.90" font-family="Liberation Sans, sans-serif" font-size="14.4">7</text>
<line x1="243.57" y1="620.80" x2="243.57" y2="614.80" stroke="#000" stroke-width="1.5"/>
<line x1="243.57" y1="335.80" x2="243.57" y2="341.80" stroke="#000" stroke-width="1.5"/>
<text x="239.72" y="649.90" font-family="Liberation Sans, sans-serif" font-size="14.4">9</text>
<line x1="284.15" y1="620.80" x2="284.15" y2="614.80" stroke="#000" stroke-width="1.5"/>
<line x1="284.15" y1="335.80" x2="284.15" y2="341.80" stroke="#000" stroke-width="1.5"/>
<path transform="translate(276.29,649.90) scale(0.00703,-0.00703)" d="M770,0L572,0L572,1090C530,1052 476,1013 408,975C340,937 278,908 222,889L222,1062C322,1107 410,1160 485,1224C560,1288 612,1350 642,1409L770,1409Z" fill="#000"/>
<path transform="translate(284.30,649.90) scale(0.00703,-0.00703)" d="M770,0L572,0L572,1090C530,1052 476,1013 408,975C340,937 278,908 222,889L222,1062C322,1107 410,1160 485,1224C560,1288 612,1350 642,1409L770,1409Z" fill="#000"/>
<line x1="324.73" y1="620.80" x2="324.73" y2="614.80" stroke="#000" stroke-width="1.5"/>
<line x1="324.73" y1="335.80" x2="324.73" y2="341.80" stroke="#000" stroke-width="1.5"/>
<path transform="translate(316.87,649.90) scale(0.00703,-0.00703)" d="M770,0L572,0L572,1090C530,1052 476,1013 408,975C340,937 278,908 222,889L222,1062C322,1107 410,1160 485,1224C560,1288 612,1350 642,1409L770,1409Z" fill="#000"/>
<text x="324.88" y="649.90" font-family="Liberation Sans, sans-serif" font-size="14.4">3</text>
<line x1="61.00" y1="609.80" x2="66.50" y2="609.80" stroke="#000" stroke-width="1.5"/>
<line x1="345.50" y1="609.80" x2="340.00" y2="609.80" stroke="#000" stroke-width="1.5"/>
<text x="28.88" y="615.10" font-family="Liberation Sans, sans-serif" font-size="14.4">0.0</text>
<line x1="61.00" y1="558.10" x2="66.50" y2="558.10" stroke="#000" stroke-width="1.5"/>
<line x1="345.50" y1="558.10" x2="340.00" y2="558.10" stroke="#000" stroke-width="1.5"/>
<text x="28.88" y="563.40" font-family="Liberation Sans, sans-serif" font-size="14.4">0.2</text>
<line x1="61.00" y1="506.40" x2="66.50" y2="506.40" stroke="#000" stroke-width="1.5"/>
<line x1="345.50" y1="506.40" x2="340.00" y2="506.40" stroke="#000" stroke-width="1.5"/>
<text x="28.88" y="511.70" font-family="Liberation Sans, sans-serif" font-size="14.4">0.4</text>
<line x1="61.00" y1="454.70" x2="66.50" y2="454.70" stroke="#000" stroke-width="1.5"/>
<line x1="345.50" y1="454.70" x2="340.00" y2="454.70" stroke="#000" stroke-width="1.5"/>
<text x="28.88" y="460.00" font-family="Liberation Sans, sans-serif" font-size="14.4">0.6</text>
<line x1="61.00" y1="403.00" x2="66.50" y2="403.00" stroke="#000" stroke-width="1.5"/>
<line x1="345.50" y1="403.00" x2="340.00" y2="403.00" stroke="#000" stroke-width="1.5"/>
<text x="28.88" y="408.30" font-family="Liberation Sans, sans-serif" font-size="14.4">0.8</text>
<line x1="61.00" y1="351.30" x2="66.50" y2="351.30" stroke="#000" stroke-width="1.5"/>
<line x1="345.50" y1="351.30" x2="340.00" y2="351.30" stroke="#000" stroke-width="1.5"/>
<path transform="translate(28.88,356.60) scale(0.00703,-0.00703)" d="M770,0L572,0L572,1090C530,1052 476,1013 408,975C340,937 278,908 222,889L222,1062C322,1107 410,1160 485,1224C560,1288 612,1350 642,1409L770,1409Z" fill="#000"/>
<text x="36.89" y="356.60" font-family="Liberation Sans, sans-serif" font-size="14.4">.0</text>
<text x="72.20" y="363.50" font-family="Liberation Sans, sans-serif" font-size="17.5">(c) Q</text>
<rect x="61.00" y="335.80" width="284.50" height="285.00" fill="none" stroke="#000" stroke-width="1.9"/>
</g>
<g>
<clipPath id="c723"><rect x="387.30" y="335.80" width="284.30" height="285.00"/></clipPath>
<g clip-path="url(#c723)">
<circle cx="407.50" cy="572.20" r="3.05" fill="none" stroke="#a020f0" stroke-width="1.55"/>
<circle cx="407.50" cy="577.80" r="3.05" fill="none" stroke="#a020f0" stroke-width="1.55"/>
<circle cx="407.50" cy="586.30" r="3.05" fill="none" stroke="#a020f0" stroke-width="1.55"/>
<circle cx="407.50" cy="589.60" r="3.05" fill="none" stroke="#a020f0" stroke-width="1.55"/>
<rect x="404.45" y="556.00" width="6.10" height="6.00" fill="#ff0000"/>
<polygon points="407.50,592.06 411.60,599.26 403.40,599.26" fill="none" stroke="#a52a2a" stroke-width="1.40" stroke-linejoin="miter"/>
<rect x="404.10" y="604.00" width="6.80" height="9.50" fill="#ffa500"/>
<rect x="406.20" y="607.60" width="2.60" height="0.9" fill="#fff" opacity="0.85"/>
<rect x="424.09" y="558.80" width="7.40" height="34.20" rx="3.70" fill="#a020f0"/>
<rect x="424.74" y="541.40" width="6.10" height="20.20" fill="#ff0000"/>
<polygon points="427.29,590.70 428.29,590.70 431.43,594.30 432.64,595.66 432.64,602.00 422.94,602.00 422.94,595.66 424.15,594.30" fill="#a52a2a"/>
<rect x="424.39" y="600.00" width="6.80" height="13.40" fill="#ffa500"/>
<rect x="426.49" y="605.55" width="2.60" height="0.9" fill="#fff" opacity="0.85"/>
<rect x="444.38" y="556.90" width="7.40" height="35.50" rx="3.70" fill="#a020f0"/>
<rect x="445.03" y="535.20" width="6.10" height="24.50" fill="#ff0000"/>
<polygon points="447.58,590.50 448.58,590.50 451.72,594.10 452.93,595.46 452.93,602.00 443.23,602.00 443.23,595.46 444.44,594.10" fill="#a52a2a"/>
<rect x="444.68" y="600.00" width="6.80" height="13.60" fill="#ffa500"/>
<rect x="446.78" y="605.65" width="2.60" height="0.9" fill="#fff" opacity="0.85"/>
<rect x="464.67" y="556.90" width="7.40" height="33.60" rx="3.70" fill="#a020f0"/>
<rect x="465.32" y="532.40" width="6.10" height="27.30" fill="#ff0000"/>
<polygon points="467.87,588.60 468.87,588.60 472.01,592.20 473.22,593.56 473.22,602.00 463.52,602.00 463.52,593.56 464.73,592.20" fill="#a52a2a"/>
<rect x="464.97" y="600.00" width="6.80" height="12.70" fill="#ffa500"/>
<rect x="467.07" y="605.20" width="2.60" height="0.9" fill="#fff" opacity="0.85"/>
<rect x="484.96" y="555.90" width="7.40" height="33.70" rx="3.70" fill="#a020f0"/>
<rect x="485.61" y="529.90" width="6.10" height="28.80" fill="#ff0000"/>
<polygon points="488.16,587.60 489.16,587.60 492.30,591.20 493.51,592.56 493.51,602.00 483.81,602.00 483.81,592.56 485.02,591.20" fill="#a52a2a"/>
<rect x="485.26" y="601.00" width="6.80" height="10.70" fill="#ffa500"/>
<rect x="487.36" y="605.20" width="2.60" height="0.9" fill="#fff" opacity="0.85"/>
<rect x="505.25" y="555.90" width="7.40" height="33.70" rx="3.70" fill="#a020f0"/>
<rect x="505.90" y="529.90" width="6.10" height="28.80" fill="#ff0000"/>
<polygon points="508.45,587.60 509.45,587.60 512.59,591.20 513.80,592.56 513.80,602.00 504.10,602.00 504.10,592.56 505.31,591.20" fill="#a52a2a"/>
<rect x="505.55" y="598.00" width="6.80" height="13.70" fill="#ffa500"/>
<rect x="507.65" y="603.70" width="2.60" height="0.9" fill="#fff" opacity="0.85"/>
<rect x="525.54" y="558.30" width="7.40" height="32.80" rx="3.70" fill="#a020f0"/>
<rect x="526.19" y="535.10" width="6.10" height="26.00" fill="#ff0000"/>
<polygon points="528.74,587.80 529.74,587.80 532.88,591.40 534.09,592.76 534.09,602.20 524.39,602.20 524.39,592.76 525.60,591.40" fill="#a52a2a"/>
<rect x="525.84" y="601.00" width="6.80" height="9.00" fill="#ffa500"/>
<rect x="545.83" y="557.20" width="7.40" height="36.10" rx="3.70" fill="#a020f0"/>
<rect x="546.48" y="540.40" width="6.10" height="19.60" fill="#ff0000"/>
<polygon points="549.03,590.00 550.03,590.00 553.17,593.60 554.38,594.96 554.38,602.20 544.68,602.20 544.68,594.96 545.89,593.60" fill="#a52a2a"/>
<rect x="546.13" y="601.00" width="6.80" height="6.80" fill="#ffa500"/>
<rect x="566.12" y="557.20" width="7.40" height="37.20" rx="3.70" fill="#a020f0"/>
<rect x="566.77" y="545.10" width="6.10" height="14.90" fill="#ff0000"/>
<polygon points="569.32,588.90 570.32,588.90 573.46,592.50 574.67,593.86 574.67,601.10 564.97,601.10 564.97,593.86 566.18,592.50" fill="#a52a2a"/>
<rect x="566.42" y="600.00" width="6.80" height="6.80" fill="#ffa500"/>
<rect x="586.41" y="558.30" width="7.40" height="35.00" rx="3.70" fill="#a020f0"/>
<rect x="587.06" y="550.00" width="6.10" height="11.10" fill="#ff0000"/>
<polygon points="589.61,590.00 590.61,590.00 593.75,593.60 594.96,594.96 594.96,601.10 585.26,601.10 585.26,594.96 586.47,593.60" fill="#a52a2a"/>
<rect x="586.71" y="600.00" width="6.80" height="6.80" fill="#ffa500"/>
<rect x="606.70" y="558.30" width="7.40" height="28.20" rx="3.70" fill="#a020f0"/>
<rect x="607.35" y="555.10" width="6.10" height="6.00" fill="#ff0000"/>
<polygon points="610.40,591.26 614.50,598.46 606.30,598.46" fill="none" stroke="#a52a2a" stroke-width="1.40" stroke-linejoin="miter"/>
<rect x="626.99" y="560.40" width="7.40" height="11.20" rx="3.70" fill="#a020f0"/>
<circle cx="630.69" cy="577.00" r="3.05" fill="none" stroke="#a020f0" stroke-width="1.55"/>
<circle cx="630.69" cy="580.70" r="3.05" fill="none" stroke="#a020f0" stroke-width="1.55"/>
<circle cx="650.98" cy="569.75" r="3.05" fill="none" stroke="#a020f0" stroke-width="1.55"/>
<line x1="386.70" y1="564.40" x2="671.60" y2="564.40" stroke="#2fdc2f" stroke-width="1.80" stroke-dasharray="7.50,6.28"/>
<line x1="386.70" y1="568.70" x2="671.60" y2="568.70" stroke="#c82828" stroke-width="1.80" stroke-dasharray="2.80,4.10"/>
<line x1="386.70" y1="570.80" x2="671.60" y2="570.80" stroke="#0e0eb4" stroke-width="1.80"/>
<line x1="386.70" y1="572.90" x2="671.60" y2="572.90" stroke="#8a28d8" stroke-width="1.80" stroke-dasharray="13.00,4.25"/>
<line x1="386.70" y1="577.20" x2="671.60" y2="577.20" stroke="#9a2626" stroke-width="1.80" stroke-dasharray="2.80,4.29,7.60,4.29"/>
</g>
<line x1="407.50" y1="620.80" x2="407.50" y2="614.80" stroke="#000" stroke-width="1.5"/>
<line x1="407.50" y1="335.80" x2="407.50" y2="341.80" stroke="#000" stroke-width="1.5"/>
<path transform="translate(403.65,649.90) scale(0.00703,-0.00703)" d="M770,0L572,0L572,1090C530,1052 476,1013 408,975C340,937 278,908 222,889L222,1062C322,1107 410,1160 485,1224C560,1288 612,1350 642,1409L770,1409Z" fill="#000"/>
<line x1="448.08" y1="620.80" x2="448.08" y2="614.80" stroke="#000" stroke-width="1.5"/>
<line x1="448.08" y1="335.80" x2="448.08" y2="341.80" stroke="#000" stroke-width="1.5"/>
<text x="444.23" y="649.90" font-family="Liberation Sans, sans-serif" font-size="14.4">3</text>
<line x1="488.66" y1="620.80" x2="488.66" y2="614.80" stroke="#000" stroke-width="1.5"/>
<line x1="488.66" y1="335.80" x2="488.66" y2="341.80" stroke="#000" stroke-width="1.5"/>
<text x="484.81" y="649.90" font-family="Liberation Sans, sans-serif" font-size="14.4">5</text>
<line x1="529.24" y1="620.80" x2="529.24" y2="614.80" stroke="#000" stroke-width="1.5"/>
<line x1="529.24" y1="335.80" x2="529.24" y2="341.80" stroke="#000" stroke-width="1.5"/>
<text x="525.39" y="649.90" font-family="Liberation Sans, sans-serif" font-size="14.4">7</text>
<line x1="569.82" y1="620.80" x2="569.82" y2="614.80" stroke="#000" stroke-width="1.5"/>
<line x1="569.82" y1="335.80" x2="569.82" y2="341.80" stroke="#000" stroke-width="1.5"/>
<text x="565.97" y="649.90" font-family="Liberation Sans, sans-serif" font-size="14.4">9</text>
<line x1="610.40" y1="620.80" x2="610.40" y2="614.80" stroke="#000" stroke-width="1.5"/>
<line x1="610.40" y1="335.80" x2="610.40" y2="341.80" stroke="#000" stroke-width="1.5"/>
<path transform="translate(602.54,649.90) scale(0.00703,-0.00703)" d="M770,0L572,0L572,1090C530,1052 476,1013 408,975C340,937 278,908 222,889L222,1062C322,1107 410,1160 485,1224C560,1288 612,1350 642,1409L770,1409Z" fill="#000"/>
<path transform="translate(610.55,649.90) scale(0.00703,-0.00703)" d="M770,0L572,0L572,1090C530,1052 476,1013 408,975C340,937 278,908 222,889L222,1062C322,1107 410,1160 485,1224C560,1288 612,1350 642,1409L770,1409Z" fill="#000"/>
<line x1="650.98" y1="620.80" x2="650.98" y2="614.80" stroke="#000" stroke-width="1.5"/>
<line x1="650.98" y1="335.80" x2="650.98" y2="341.80" stroke="#000" stroke-width="1.5"/>
<path transform="translate(643.12,649.90) scale(0.00703,-0.00703)" d="M770,0L572,0L572,1090C530,1052 476,1013 408,975C340,937 278,908 222,889L222,1062C322,1107 410,1160 485,1224C560,1288 612,1350 642,1409L770,1409Z" fill="#000"/>
<text x="651.13" y="649.90" font-family="Liberation Sans, sans-serif" font-size="14.4">3</text>
<line x1="387.30" y1="609.80" x2="392.80" y2="609.80" stroke="#000" stroke-width="1.5"/>
<line x1="671.60" y1="609.80" x2="666.10" y2="609.80" stroke="#000" stroke-width="1.5"/>
<text x="355.18" y="615.10" font-family="Liberation Sans, sans-serif" font-size="14.4">0.0</text>
<line x1="387.30" y1="558.10" x2="392.80" y2="558.10" stroke="#000" stroke-width="1.5"/>
<line x1="671.60" y1="558.10" x2="666.10" y2="558.10" stroke="#000" stroke-width="1.5"/>
<text x="355.18" y="563.40" font-family="Liberation Sans, sans-serif" font-size="14.4">0.2</text>
<line x1="387.30" y1="506.40" x2="392.80" y2="506.40" stroke="#000" stroke-width="1.5"/>
<line x1="671.60" y1="506.40" x2="666.10" y2="506.40" stroke="#000" stroke-width="1.5"/>
<text x="355.18" y="511.70" font-family="Liberation Sans, sans-serif" font-size="14.4">0.4</text>
<line x1="387.30" y1="454.70" x2="392.80" y2="454.70" stroke="#000" stroke-width="1.5"/>
<line x1="671.60" y1="454.70" x2="666.10" y2="454.70" stroke="#000" stroke-width="1.5"/>
<text x="355.18" y="460.00" font-family="Liberation Sans, sans-serif" font-size="14.4">0.6</text>
<line x1="387.30" y1="403.00" x2="392.80" y2="403.00" stroke="#000" stroke-width="1.5"/>
<line x1="671.60" y1="403.00" x2="666.10" y2="403.00" stroke="#000" stroke-width="1.5"/>
<text x="355.18" y="408.30" font-family="Liberation Sans, sans-serif" font-size="14.4">0.8</text>
<line x1="387.30" y1="351.30" x2="392.80" y2="351.30" stroke="#000" stroke-width="1.5"/>
<line x1="671.60" y1="351.30" x2="666.10" y2="351.30" stroke="#000" stroke-width="1.5"/>
<path transform="translate(355.18,356.60) scale(0.00703,-0.00703)" d="M770,0L572,0L572,1090C530,1052 476,1013 408,975C340,937 278,908 222,889L222,1062C322,1107 410,1160 485,1224C560,1288 612,1350 642,1409L770,1409Z" fill="#000"/>
<text x="363.19" y="356.60" font-family="Liberation Sans, sans-serif" font-size="14.4">.0</text>
<text x="397.00" y="363.50" font-family="Liberation Sans, sans-serif" font-size="17.5">(d) FDis</text>
<rect x="387.30" y="335.80" width="284.30" height="285.00" fill="none" stroke="#000" stroke-width="1.9"/>
</g>
<rect x="214.80" y="350.40" width="116.40" height="160.00" fill="#fff" stroke="#000" stroke-width="1.6"/>
<text x="273" y="373.2" text-anchor="middle" font-family="Liberation Sans, sans-serif" font-size="17.5">Method</text>
<line x1="231.3" y1="396.00" x2="266.90" y2="396.00" stroke="#0e0eb4" stroke-width="1.80"/>
<text x="283.9" y="402.80" font-family="Liberation Sans, sans-serif" font-size="17.5">PC</text>
<line x1="231.3" y1="418.90" x2="266.90" y2="418.90" stroke="#2fdc2f" stroke-width="1.80" stroke-dasharray="7.50,6.28"/>
<text x="283.9" y="425.70" font-family="Liberation Sans, sans-serif" font-size="17.5">RM</text>
<line x1="231.3" y1="441.90" x2="262.60" y2="441.90" stroke="#c82828" stroke-width="1.80" stroke-dasharray="2.80,4.10"/>
<text x="283.9" y="448.70" font-family="Liberation Sans, sans-serif" font-size="17.5">GCD</text>
<line x1="231.3" y1="464.90" x2="266.90" y2="464.90" stroke="#9a2626" stroke-width="1.80" stroke-dasharray="2.80,4.29,7.60,4.29"/>
<text x="283.9" y="471.70" font-family="Liberation Sans, sans-serif" font-size="17.5">RV</text>
<line x1="231.3" y1="487.60" x2="262.60" y2="487.60" stroke="#8a28d8" stroke-width="1.80" stroke-dasharray="13.00,4.25"/>
<text x="283.9" y="494.40" font-family="Liberation Sans, sans-serif" font-size="17.5">HL</text>
<text x="350.5" y="677" text-anchor="middle" font-family="Liberation Sans, sans-serif" font-size="17.5">Trait number</text>
<text transform="translate(14.6,331.4) rotate(-90)" text-anchor="middle" font-family="Liberation Sans, sans-serif" font-size="17.65">Coefficient of determination for linear regression</text>
</svg>
</body></html>
